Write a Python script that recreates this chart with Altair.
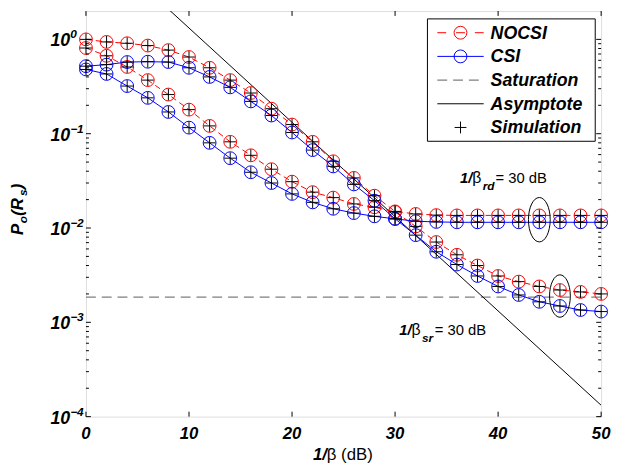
import altair as alt
import pandas as pd

# ---------------- data ----------------
x_db = [0, 2, 4, 6, 8, 10, 12, 14, 16, 18, 20, 22, 24, 26, 28, 30, 32, 34, 36, 38, 40, 42, 44, 46, 48, 50]

nocsi_rd = [1.0, 0.94, 0.91, 0.86, 0.77, 0.65, 0.50, 0.37, 0.27, 0.184, 0.125, 0.082, 0.051, 0.034, 0.022,
            0.015, 0.0141, 0.0137, 0.0136, 0.0136, 0.0136, 0.0136, 0.0136, 0.0136, 0.0136, 0.0136]
csi_rd = [0.52, 0.54, 0.575, 0.58, 0.575, 0.50, 0.40, 0.31, 0.22, 0.156, 0.103, 0.067, 0.045, 0.029, 0.0195,
          0.0125, 0.0118, 0.0116, 0.0115, 0.0115, 0.0115, 0.0115, 0.0115, 0.0115, 0.0115, 0.0115]
nocsi_sr = [0.81, 0.67, 0.51, 0.37, 0.26, 0.18, 0.121, 0.082, 0.059, 0.042, 0.031, 0.024, 0.021, 0.018, 0.0166,
            0.0148, 0.0104, 0.0071, 0.0052, 0.0040, 0.0031, 0.0027, 0.0024, 0.0022, 0.0021, 0.0020]
csi_sr = [0.48, 0.43, 0.32, 0.24, 0.17, 0.116, 0.080, 0.055, 0.039, 0.030, 0.023, 0.0187, 0.016, 0.0144, 0.0133,
          0.0125, 0.0084, 0.0056, 0.0041, 0.0031, 0.0024, 0.00195, 0.00165, 0.00149, 0.00135, 0.0013]

saturation_x = [0, 50]
saturation_y = [1.85e-3, 1.85e-3]
asymptote_x = [0, 50]
asymptote_y = [13.2, 1.32e-4]

x_ticks = [0, 10, 20, 30, 40, 50]
x_tick_labels = ["0", "10", "20", "30", "40", "50"]
y_major = [1e-4, 1e-3, 1e-2, 1e-1, 1.0]
y_exponents = ["\u22124", "\u22123", "\u22122", "\u22121", "0"]
y_minor = [m * 10.0 ** k for k in (-4, -3, -2, -1) for m in (2, 3, 4, 5, 6, 7, 8, 9)]

ellipse_x = [44, 46]
ellipse_y = [0.01225, 0.0019]
ellipse_h = [45, 43]

ann_x = [36.3, 30.4]
ann_y = [0.0303, 7.26e-4]
ann_sub = ["rd", "sr"]

legend_labels = ["NOCSI", "CSI", "Saturation", "Asymptote", "Simulation"]

# ---------------- layout ----------------
W, H = 522, 411
FONT = "Liberation Sans"

xs = alt.Scale(domain=[0, 50], nice=False, zero=False)
ys = alt.Scale(type="log", domain=[1e-4, 2], nice=False)


def X(f="x"):
    return alt.X(f"{f}:Q", scale=xs, axis=None)


def Y(f="y"):
    return alt.Y(f"{f}:Q", scale=ys, axis=None)


def curve_df(series):
    rows = []
    for name, vals in series.items():
        for xv, yv in zip(x_db, vals):
            rows.append({"x": xv, "y": yv, "curve": name})
    return pd.DataFrame(rows)


red_df = curve_df({"rd": nocsi_rd, "sr": nocsi_sr})
blue_df = curve_df({"rd": csi_rd, "sr": csi_sr})
all_df = pd.concat([red_df.assign(kind="n"), blue_df.assign(kind="c")])

sat_df = pd.DataFrame({"x": saturation_x, "y": saturation_y})
asy_df = pd.DataFrame({"x": asymptote_x, "y": asymptote_y})

plus_path = "M-1,0L1,0M0,-1L0,1"
ellipse_path = "M0,-1A0.49,1,0,1,1,0,1A0.49,1,0,1,1,0,-1Z"

layers = []

# saturation & asymptote
layers.append(alt.Chart(sat_df).mark_line(color="#7f7f7f", strokeDash=[10, 6], strokeWidth=1.3).encode(x=X(), y=Y()))
layers.append(alt.Chart(asy_df).mark_line(color="black", strokeWidth=1, clip=True).encode(x=X(), y=Y()))

# NOCSI (red dashed)
layers.append(alt.Chart(red_df).mark_line(color="#ff0000", strokeDash=[6, 4], strokeWidth=1).encode(
    x=X(), y=Y(), detail="curve:N"))
layers.append(alt.Chart(red_df).mark_point(shape="circle", filled=False, color="#ff0000", size=169,
                                           strokeWidth=1, opacity=1).encode(x=X(), y=Y()))
# CSI (blue solid)
layers.append(alt.Chart(blue_df).mark_line(color="#0000ff", strokeWidth=1).encode(
    x=X(), y=Y(), detail="curve:N"))
layers.append(alt.Chart(blue_df).mark_point(shape="circle", filled=False, color="#0000ff", size=169,
                                            strokeWidth=1, opacity=1).encode(x=X(), y=Y()))
# Simulation pluses
layers.append(alt.Chart(all_df).mark_point(shape=plus_path, filled=False, color="black", size=144,
                                           strokeWidth=1, opacity=1).encode(x=X(), y=Y()))

# ellipses
ell_df = pd.DataFrame({"x": ellipse_x, "y": ellipse_y, "s": [h * h for h in ellipse_h]})
layers.append(alt.Chart(ell_df).mark_point(shape=ellipse_path, filled=False, color="black",
                                           strokeWidth=1, opacity=1).encode(
    x=X(), y=Y(), size=alt.Size("s:Q", scale=None, legend=None)))

# annotations
ann_df = pd.DataFrame({"x": ann_x, "y": ann_y, "sub": ann_sub})
base_ann = alt.Chart(ann_df)
layers.append(base_ann.mark_text(font=FONT, fontSize=15, fontWeight="bold", fontStyle="italic",
                                 align="left", baseline="alphabetic").encode(x=X(), y=Y(), text=alt.value("1/")))
layers.append(base_ann.mark_text(font=FONT, fontSize=16, align="left", baseline="alphabetic", dx=12.5).encode(
    x=X(), y=Y(), text=alt.value("β")))
layers.append(base_ann.mark_text(font=FONT, fontSize=12, fontWeight="bold", fontStyle="italic",
                                 align="left", baseline="alphabetic", dx=23, dy=7).encode(
    x=X(), y=Y(), text="sub:N"))
layers.append(base_ann.mark_text(font=FONT, fontSize=15, align="left", baseline="alphabetic", dx=36).encode(
    x=X(), y=Y(), text=alt.value("= 30 dB")))

# ticks (inward)
xt_df = pd.DataFrame({"x": x_ticks, "label": x_tick_labels})
ymaj_df = pd.DataFrame({"y": y_major, "exp": y_exponents})
ymin_df = pd.DataFrame({"y": y_minor})
tick_style = dict(color="black", strokeWidth=1)
layers.append(alt.Chart(xt_df).mark_rule(**tick_style).encode(x=X(), y=alt.value(H), y2=alt.value(H - 5)))
layers.append(alt.Chart(xt_df).mark_rule(**tick_style).encode(x=X(), y=alt.value(0), y2=alt.value(5)))
layers.append(alt.Chart(ymaj_df).mark_rule(**tick_style).encode(y=Y(), x=alt.value(0), x2=alt.value(5)))
layers.append(alt.Chart(ymaj_df).mark_rule(**tick_style).encode(y=Y(), x=alt.value(W), x2=alt.value(W - 5)))
layers.append(alt.Chart(ymin_df).mark_rule(**tick_style).encode(y=Y(), x=alt.value(0), x2=alt.value(3)))
layers.append(alt.Chart(ymin_df).mark_rule(**tick_style).encode(y=Y(), x=alt.value(W), x2=alt.value(W - 3)))

# tick labels
lab_style = dict(font=FONT, fontWeight="bold", fontStyle="italic")
layers.append(alt.Chart(xt_df).mark_text(fontSize=17, align="center", baseline="alphabetic", dy=0,
                                         **lab_style).encode(x=X(), y=alt.value(H + 23), text="label:N"))
layers.append(alt.Chart(ymaj_df).mark_text(fontSize=18, align="right", baseline="alphabetic", dx=-16, dy=7,
                                           **lab_style).encode(y=Y(), x=alt.value(0), text=alt.value("10")))
layers.append(alt.Chart(ymaj_df).mark_text(fontSize=12, align="left", baseline="alphabetic", dx=-16, dy=-1,
                                           **lab_style).encode(y=Y(), x=alt.value(0), text="exp:N"))

# axis titles
one = pd.DataFrame({"k": [0]})
layers.append(alt.Chart(one).mark_text(fontSize=17, align="left", baseline="alphabetic", **lab_style).encode(
    x=alt.value(230), y=alt.value(455), text=alt.value("1/")))
layers.append(alt.Chart(one).mark_text(font=FONT, fontSize=17, align="left", baseline="alphabetic").encode(
    x=alt.value(244), y=alt.value(455), text=alt.value("β (dB)")))

yt_pieces = [("P", 17, 0, 0), ("o", 12, 12, 4), ("(R", 17, 19.5, 0), ("s", 12, 39.5, 4), (")", 17, 46.5, 0)]
for txt, fs, dx, dy in yt_pieces:
    layers.append(alt.Chart(one).mark_text(fontSize=fs, align="left", baseline="alphabetic", angle=270,
                                           dx=dx, dy=dy, **lab_style).encode(
        x=alt.value(-64), y=alt.value(227), text=alt.value(txt)))

# legend (manual, pixel positions inside plot frame)
LX0, LX1, LY0, LY1 = 346, 516, 8, 132
rows_y = [22, 46, 70, 94, 118]
S0, S1, SM, TX = 356, 403, 379.5, 410
layers.append(alt.Chart(one).mark_rect(fill="white", stroke="black", strokeWidth=1).encode(
    x=alt.value(LX0), x2=alt.value(LX1), y=alt.value(LY0), y2=alt.value(LY1)))
layers.append(alt.Chart(one).mark_rule(color="#ff0000", strokeWidth=1, strokeDash=[9, 10, 9, 10]).encode(
    x=alt.value(S0), x2=alt.value(S1), y=alt.value(rows_y[0])))
layers.append(alt.Chart(one).mark_point(shape="circle", filled=False, color="#ff0000", size=169, strokeWidth=1,
                                        opacity=1).encode(x=alt.value(SM), y=alt.value(rows_y[0])))
layers.append(alt.Chart(one).mark_rule(color="#0000ff", strokeWidth=1).encode(
    x=alt.value(S0), x2=alt.value(S1), y=alt.value(rows_y[1])))
layers.append(alt.Chart(one).mark_point(shape="circle", filled=False, color="#0000ff", size=169, strokeWidth=1,
                                        opacity=1).encode(x=alt.value(SM), y=alt.value(rows_y[1])))
layers.append(alt.Chart(one).mark_rule(color="#7f7f7f", strokeWidth=1.3, strokeDash=[10, 6]).encode(
    x=alt.value(S0), x2=alt.value(S1), y=alt.value(rows_y[2])))
layers.append(alt.Chart(one).mark_rule(color="black", strokeWidth=1).encode(
    x=alt.value(S0), x2=alt.value(S1), y=alt.value(rows_y[3])))
layers.append(alt.Chart(one).mark_point(shape=plus_path, filled=False, color="black", size=144, strokeWidth=1,
                                        opacity=1).encode(x=alt.value(SM), y=alt.value(rows_y[4])))
leg_df = pd.DataFrame({"label": legend_labels, "yy": rows_y})
layers.append(alt.Chart(leg_df).mark_text(fontSize=18, align="left", baseline="middle", dy=1, **lab_style).encode(
    x=alt.value(TX), y=alt.Y("yy:Q", scale=None, axis=None), text="label:N"))

chart = alt.layer(*layers).properties(
    width=W, height=H,
    autosize=alt.AutoSizeParams(type="none"),
    padding={"left": 79, "top": 0, "right": 11, "bottom": 48},
).configure_view(stroke="black", strokeWidth=1.2).configure(background="white")

chart.save("out.html", embed_options={"renderer": "svg", "actions": False})
